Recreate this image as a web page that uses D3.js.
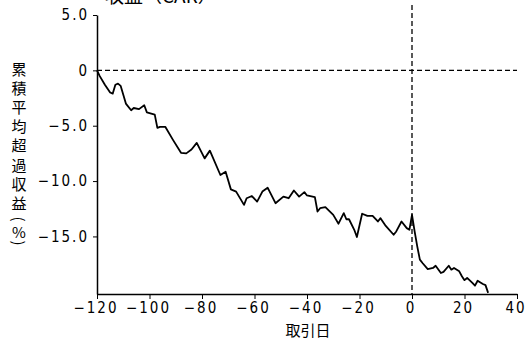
<!DOCTYPE html>
<html>
<head>
<meta charset="utf-8">
<script src="https://cdn.jsdelivr.net/npm/d3@7"></script>
<style>
  html, body { margin: 0; padding: 0; background: #fff; }
  svg { display: block; }
  .tick text { font-family: "Liberation Sans Narrow", "DejaVu Sans Condensed", sans-serif; font-size: 15px; letter-spacing: 2px; fill: #000; }
  .cjk { font-family: "Noto Sans CJK JP", sans-serif; fill: #000; }
</style>
</head>
<body>
<figure id="car" style="margin:0"></figure>
<script>
// trading day relative to the event, and cumulative abnormal return (%)
const days = [-120, -119, -117, -115, -114, -113, -112, -111, -109, -107, -106, -104, -102, -101,
  -98, -97, -96, -94, -91, -88, -86, -84, -82, -79, -77, -73, -71, -69, -67, -64, -63, -61,
  -59, -57, -55, -52, -49, -47, -45, -43, -41, -40, -37, -36, -35, -33, -30, -28, -26, -25,
  -24, -22, -21, -19, -17, -15, -13, -12, -10, -7, -6, -4, -2, -1, 0, 1, 2, 3, 4, 6, 8, 9,
  11, 12, 14, 15, 16, 18, 19, 20, 21, 23, 24, 25, 27, 28, 29];
const car = [0, -0.5, -1.3, -2.0, -2.1, -1.3, -1.2, -1.4, -3.0, -3.6, -3.4, -3.5, -3.15, -3.8,
  -4.0, -5.2, -5.1, -5.1, -6.3, -7.45, -7.5, -7.15, -6.55, -7.95, -7.25, -9.45, -9.15, -10.75, -10.95, -12.15, -11.55, -11.35,
  -11.85, -10.95, -10.6, -12.0, -11.4, -11.55, -10.85, -11.4, -11.0, -11.3, -11.45, -12.75, -12.45, -12.35, -13.05, -13.85, -12.9, -13.45,
  -13.45, -14.4, -15.05, -12.95, -13.15, -13.15, -13.65, -13.35, -14.05, -14.85, -14.55, -13.65, -14.25, -14.4, -13.05, -14.55, -15.9, -17.1, -17.4, -17.95, -17.85, -17.65,
  -18.3, -18.2, -17.65, -18.0, -17.85, -18.15, -18.6, -18.95, -18.75, -19.2, -19.45, -19.0, -19.3, -19.4, -20.1];

const xTicks = [-120, -100, -80, -60, -40, -20, 0, 20, 40];
const xTickLabels = ["\u2212120", "\u2212100", "\u221280", "\u221260", "\u221240", "\u221220", "0", "20", "40"];
const yTicks = [5, 0, -5, -10, -15];
const yTickLabels = ["5.0", "0", "\u22125.0", "\u221210.0", "\u221215.0"];

const titleText = "収益（CAR）";
const xTitle = "取引日";
const yTitleChars = ["累", "積", "平", "均", "超", "過", "収", "益"];

const width = 529, height = 341;

const svg = d3.select("figure#car")
  .append("svg")
  .attr("width", width)
  .attr("height", height);

const x = d3.scaleLinear().domain([-120, 40]).range([97, 517]);
const y = d3.scaleLinear().domain([-20.2, 5]).range([294, 15]);

// x axis
const xAxis = svg.append("g")
  .attr("transform", "translate(0," + y(-20.2) + ")")
  .call(d3.axisBottom(x).tickValues(xTicks).tickSize(5).tickSizeOuter(0)
    .tickFormat((d, i) => xTickLabels[i]));
xAxis.select(".domain").attr("stroke-width", 1.5);
xAxis.selectAll(".tick text").attr("y", 8).attr("dy", "0.75em").attr("dx", "-0.1em");

// y axis
const yAxis = svg.append("g")
  .attr("transform", "translate(" + x(-120) + ",0)")
  .call(d3.axisLeft(y).tickValues(yTicks).tickSize(4).tickSizeOuter(0)
    .tickFormat((d, i) => yTickLabels[i]));
yAxis.select(".domain").attr("stroke-width", 1.5);
yAxis.selectAll(".tick text").attr("x", -8);

// reference lines
svg.append("line")
  .attr("x1", x(-120)).attr("x2", x(40))
  .attr("y1", y(0)).attr("y2", y(0))
  .attr("stroke", "#000").attr("stroke-width", 1.2)
  .attr("stroke-dasharray", "5,3");
svg.append("line")
  .attr("x1", x(0)).attr("x2", x(0))
  .attr("y1", 5).attr("y2", y(-20.2))
  .attr("stroke", "#000").attr("stroke-width", 1.3)
  .attr("stroke-dasharray", "5,3");

// CAR line
const line = d3.line()
  .x((d, i) => x(days[i]))
  .y(d => y(d));
svg.append("path")
  .datum(car)
  .attr("fill", "none")
  .attr("stroke", "#000")
  .attr("stroke-width", 1.8)
  .attr("stroke-linejoin", "round")
  .attr("d", line);

// titles (top one is cut by the frame, as in the source)
svg.append("text").attr("class", "cjk")
  .attr("x", 105).attr("y", 3)
  .attr("font-size", 19)
  .text(titleText);

svg.append("text").attr("class", "cjk")
  .attr("x", 308).attr("y", 336)
  .attr("text-anchor", "middle")
  .attr("font-size", 15)
  .text(xTitle);

// vertical y title, one character per row
const yt = svg.append("g").attr("class", "cjk").attr("font-size", 15)
  .attr("text-anchor", "middle").attr("dominant-baseline", "central");
yt.selectAll("text.ch")
  .data(yTitleChars)
  .enter()
  .append("text")
  .attr("class", "ch")
  .attr("x", 19)
  .attr("y", (d, i) => 68 + i * 19.2)
  .text(d => d);
// (%) with the brackets turned sideways
yt.append("text").attr("x", 19).attr("y", 219)
  .attr("transform", "rotate(90,19,219)").text("(");
yt.append("text").attr("x", 19).attr("y", 231).text("%");
yt.append("text").attr("x", 19).attr("y", 243)
  .attr("transform", "rotate(90,19,243)").text(")");
</script>
</body>
</html>
